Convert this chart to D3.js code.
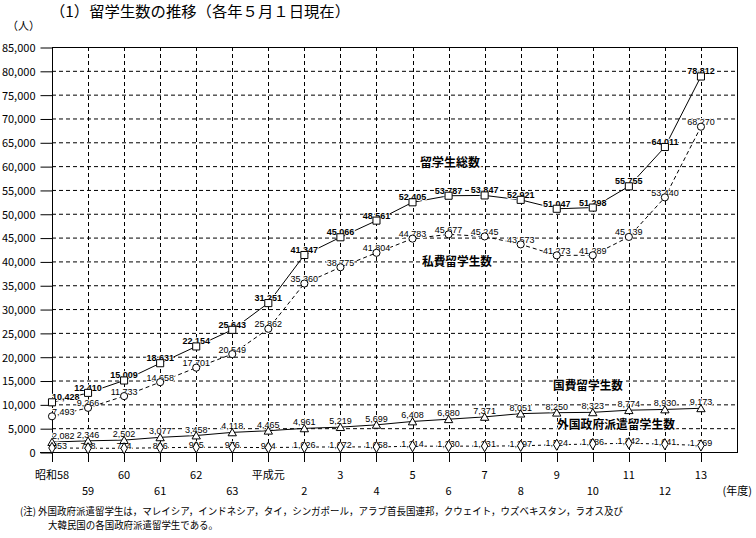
<!DOCTYPE html>
<html><head><meta charset="utf-8">
<script src="https://cdn.jsdelivr.net/npm/d3@7"></script>
<style>body{margin:0;background:#fff}svg{display:block}</style>
</head><body>
<script>
const years = ["昭和58","59","60","61","62","63","平成元","2","3","4","5","6","7","8","9","10","11","12","13"];
const totalStudents = [10428,12410,15009,18631,22154,25643,31251,41347,45066,48561,52405,53787,53847,52921,51047,51298,55755,64011,78812];
const privateStudents = [7493,9266,11733,14658,17701,20549,25862,35360,38775,41804,44783,45677,45245,43573,41273,41289,45139,53440,68270];
const govtStudents = [2082,2346,2502,3077,3458,4118,4465,4961,5219,5699,6408,6880,7371,8051,8250,8323,8774,8930,9173];
const foreignGovtStudents = [853,798,774,896,995,976,924,1026,1072,1058,1214,1230,1231,1297,1524,1686,1842,1641,1369];
const yTicks = [0,5000,10000,15000,20000,25000,30000,35000,40000,45000,50000,55000,60000,65000,70000,75000,80000,85000];
const seriesNames = ["留学生総数","私費留学生数","国費留学生数","外国政府派遣留学生数"];
const titleText = "（1）留学生数の推移（各年５月１日現在）";
const noteLines = ["(注) 外国政府派遣留学生は，マレイシア，インドネシア，タイ，シンガポール，アラブ首長国連邦，クウェイト，ウズベキスタン，ラオス及び","大韓民国の各国政府派遣留学生である。"];

const W=756,H=538;
const JP = "'Noto Sans CJK JP','Noto Sans',sans-serif";
const NUM = "'Liberation Sans',Arial,sans-serif";
const svg=d3.select("body").append("svg").attr("width",W).attr("height",H);
const x=d3.scaleLinear().domain([0,19]).range([52,737]);
const y=d3.scaleLinear().domain([0,85000]).range([452,47]);

// title
svg.append("text").attr("x",50).attr("y",17).attr("font-family",JP).attr("font-size",15)
  .attr("textLength",300).attr("lengthAdjust","spacingAndGlyphs").text(titleText);
svg.append("text").attr("x",7).attr("y",30).attr("font-family",JP).attr("font-size",11).text("（人）");

// grid
const g=svg.append("g");
g.selectAll(".hg").data(yTicks.filter(v=>v>0&&v<85000)).join("line")
  .attr("x1",52).attr("x2",737).attr("y1",d=>y(d)+0.5).attr("y2",d=>y(d)+0.5)
  .attr("stroke","#000").attr("stroke-dasharray","4,3");
g.selectAll(".vg").data(d3.range(1,19)).join("line")
  .attr("x1",d=>Math.round(x(d))+0.5).attr("x2",d=>Math.round(x(d))+0.5).attr("y1",47).attr("y2",452)
  .attr("stroke","#000").attr("stroke-dasharray","4,3");

// y axis
const yAxis=d3.axisLeft(y).tickValues(yTicks).tickFormat(d3.format(",")).tickSize(12).tickPadding(5);
const ya=svg.append("g").attr("transform","translate(52.5,0.5)").call(yAxis);
ya.select(".domain").remove();
ya.selectAll("line").attr("x2",-12);
ya.selectAll("text").attr("font-family",JP).attr("font-size",11).attr("fill","#000").attr("dy","0.35em");
// frame lines
svg.append("line").attr("x1",52).attr("x2",737).attr("y1",47.5).attr("y2",47.5).attr("stroke","#000");
svg.append("line").attr("x1",40).attr("x2",737).attr("y1",452.5).attr("y2",452.5).attr("stroke","#000").attr("stroke-width",1.2);
svg.append("line").attr("x1",52.5).attr("x2",52.5).attr("y1",47).attr("y2",462).attr("stroke","#000");
svg.append("line").attr("x1",737.5).attr("x2",737.5).attr("y1",47).attr("y2",453).attr("stroke","#000");
// x ticks
svg.selectAll(".xt").data(d3.range(0,19)).join("line")
  .attr("x1",d=>Math.round(x(d))+0.5).attr("x2",d=>Math.round(x(d))+0.5).attr("y1",452).attr("y2",462).attr("stroke","#000");
svg.selectAll(".xl").data(years).join("text")
  .attr("x",(d,i)=>x(i)).attr("y",(d,i)=>i%2===0?479:495)
  .attr("text-anchor","middle").attr("font-family",JP).attr("font-size",11).text(d=>d);
svg.append("text").attr("x",752).attr("y",495).attr("text-anchor","end").attr("font-family",JP).attr("font-size",11).text("(年度)");

// series
const series=[
  {v:totalStudents, dash:null, marker:"square", bold:true, dy:-2},
  {v:privateStudents, dash:"4,3", marker:"circle", bold:false, dy:-1.5},
  {v:govtStudents, dash:null, marker:"triangle", bold:false, dy:-3},
  {v:foreignGovtStudents, dash:"3,3", marker:"diamond", bold:false, dy:1}
];
const line=d3.line().x((d,i)=>x(i)).y(d=>y(d));
series.forEach(s=>{
  svg.append("path").attr("d",line(s.v)).attr("fill","none").attr("stroke","#000")
    .attr("stroke-width",1).attr("stroke-dasharray",s.dash);
});
const fmt=d3.format(",");
series.forEach(s=>{
  svg.append("g").selectAll("text").data(s.v).join("text")
    .attr("x",(d,i)=>x(i)).attr("y",d=>y(d)+s.dy)
    .attr("text-anchor",(d,i)=>i===0?"start":"middle")
    .attr("font-family",NUM).attr("font-size",9).attr("font-weight",s.bold?"bold":"normal")
    .attr("stroke","#fff").attr("stroke-width",2).attr("paint-order","stroke")
    .text(d=>fmt(d));
});
const sym={square:d3.symbolSquare,circle:d3.symbolCircle,triangle:d3.symbolTriangle,diamond:d3.symbolDiamond};
const sz={square:50,circle:40,triangle:30,diamond:36};
series.forEach(s=>{
  svg.append("g").selectAll("path").data(s.v).join("path")
    .attr("d",d3.symbol().type(sym[s.marker]).size(sz[s.marker]))
    .attr("transform",(d,i)=>`translate(${x(i)},${y(d)+(s.marker==="triangle"?1:0)})`)
    .attr("fill","#fff").attr("stroke","#000").attr("stroke-width",1);
});

// series labels
const labPos=[[420,167,60],[422,266,70],[553,390,70],[557,429,118]];
seriesNames.forEach((n,i)=>{
  svg.append("text").attr("x",labPos[i][0]).attr("y",labPos[i][1]).attr("font-family",JP)
    .attr("font-size",12).attr("font-weight","bold").attr("textLength",labPos[i][2])
    .attr("lengthAdjust","spacingAndGlyphs")
    .attr("stroke","#fff").attr("stroke-width",2).attr("paint-order","stroke").text(n);
});

// footnote
svg.append("text").attr("x",20).attr("y",515).attr("font-family",JP).attr("font-size",10)
  .attr("textLength",603).attr("lengthAdjust","spacingAndGlyphs").text(noteLines[0]);
svg.append("text").attr("x",48).attr("y",529).attr("font-family",JP).attr("font-size",10)
  .attr("textLength",170).attr("lengthAdjust","spacingAndGlyphs").text(noteLines[1]);
</script>
</body></html>
